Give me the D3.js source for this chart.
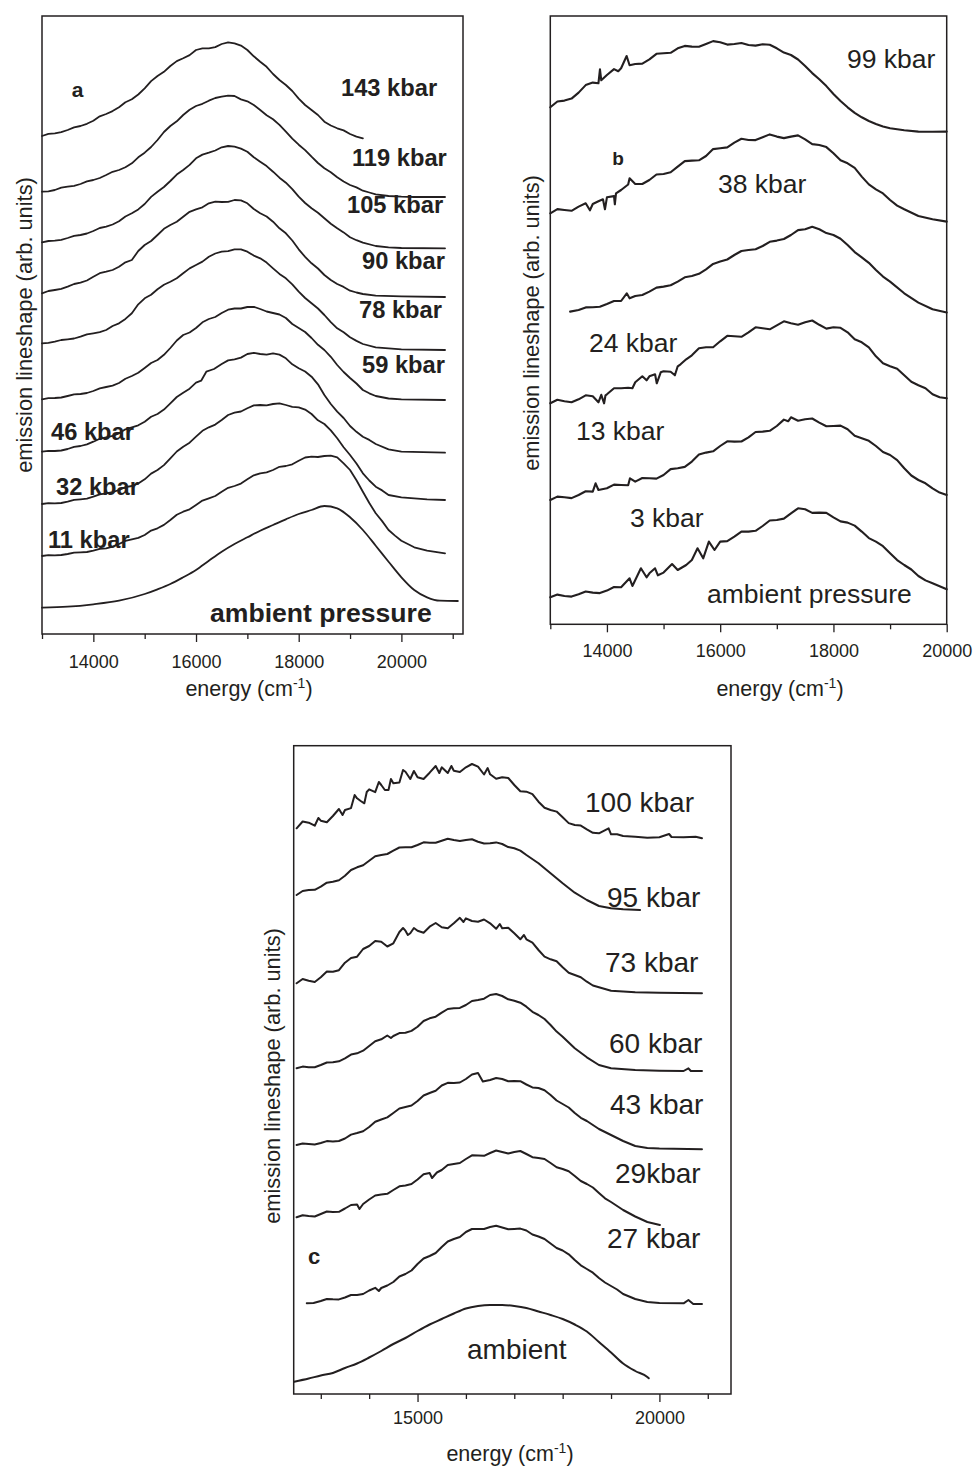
<!DOCTYPE html>
<html><head><meta charset="utf-8">
<script src="https://cdn.jsdelivr.net/npm/d3@7"></script>
<style>
body{margin:0;background:#fff;}
svg text{font-family:"Liberation Sans",Arial,Helvetica,sans-serif;fill:#231f20;}
</style>
</head><body>
<svg id="fig" width="976" height="1468"></svg>
<script>
// ---------------- DATA ----------------
// energy (cm^-1), lineshape (arb. units, vertically offset)
// Panel a
const a143 = [[13000,49.8],[13125,50.01],[13250,50.07],[13375,50.19],[13500,50.4],[13625,50.67],[13750,50.8],[13875,51.02],[14000,51.33],[14125,51.77],[14250,52.0],[14375,52.29],[14500,52.67],[14625,53.17],[14750,53.47],[14875,53.95],[15000,54.57],[15125,55.29],[15250,55.8],[15375,56.22],[15500,56.8],[15625,57.29],[15750,57.57],[15875,57.89],[16000,58.4],[16125,58.56],[16250,58.57],[16375,58.69],[16500,59.0],[16625,59.16],[16750,59.07],[16875,58.84],[17000,58.4],[17125,57.77],[17250,57.23],[17375,56.72],[17500,56.0],[17625,55.4],[17750,54.9],[17875,54.3],[18000,53.53],[18125,52.9],[18250,52.4],[18375,51.9],[18500,51.23],[18625,50.85],[18750,50.57],[18875,50.36],[19000,50.0],[19125,49.74],[19250,49.57]];
const a119 = [[13000,44.23],[13125,44.27],[13250,44.4],[13375,44.63],[13500,44.73],[13625,44.82],[13750,45.0],[13875,45.26],[14000,45.4],[14125,45.6],[14250,45.9],[14375,46.22],[14500,46.4],[14625,46.68],[14750,47.07],[14875,47.67],[15000,48.13],[15125,48.7],[15250,49.4],[15375,50.2],[15500,50.8],[15625,51.27],[15750,51.9],[15875,52.42],[16000,52.8],[16125,53.02],[16250,53.33],[16375,53.6],[16500,53.73],[16625,53.83],[16750,53.8],[16875,53.46],[17000,53.27],[17125,52.9],[17250,52.4],[17375,51.88],[17500,51.47],[17625,50.91],[17750,50.23],[17875,49.53],[18000,48.93],[18125,48.39],[18250,47.73],[18375,47.1],[18500,46.57],[18625,46.17],[18750,45.67],[18875,45.25],[19000,44.9],[19125,44.66],[19250,44.33],[19375,44.15],[19500,43.97],[19750,43.8],[20000,43.73],[20250,43.7],[20500,43.7],[20850,43.7]];
const a105 = [[13000,39.17],[13125,39.3],[13250,39.33],[13375,39.42],[13500,39.6],[13625,39.81],[13750,39.9],[13875,40.05],[14000,40.3],[14125,40.6],[14250,40.73],[14375,40.95],[14500,41.27],[14625,41.75],[14750,42.07],[14875,42.46],[15000,43.0],[15125,43.71],[15250,44.23],[15375,44.7],[15500,45.3],[15625,45.94],[15750,46.4],[15875,46.91],[16000,47.57],[16125,47.94],[16250,48.13],[16375,48.35],[16500,48.67],[16625,48.8],[16750,48.73],[16875,48.54],[17000,48.23],[17125,47.68],[17250,47.23],[17375,46.79],[17500,46.23],[17625,45.63],[17750,45.13],[17875,44.49],[18000,43.73],[18125,43.1],[18250,42.57],[18375,42.12],[18500,41.57],[18625,41.03],[18750,40.57],[18875,40.16],[19000,39.67],[19125,39.38],[19250,39.13],[19500,38.8],[19750,38.67],[20000,38.6],[20850,38.57]];
const a90 = [[13000,34.07],[13125,34.3],[13250,34.4],[13375,34.51],[13500,34.73],[13625,35.0],[13750,35.13],[13875,35.35],[14000,35.73],[14125,36.08],[14250,36.23],[14375,36.4],[14500,36.73],[14625,37.17],[14750,37.4],[14875,38.3],[15000,38.9],[15125,39.3],[15250,39.9],[15375,40.52],[15500,40.9],[15625,41.22],[15750,41.73],[15875,42.22],[16000,42.47],[16125,42.67],[16250,43.07],[16375,43.24],[16500,43.2],[16625,43.22],[16750,43.4],[16875,43.36],[17000,43.07],[17125,42.5],[17250,42.07],[17375,41.75],[17500,41.23],[17625,40.57],[17750,40.07],[17875,39.35],[18000,38.47],[18125,37.71],[18250,37.07],[18375,36.55],[18500,35.9],[18625,35.4],[18750,35.0],[18875,34.71],[19000,34.33],[19125,34.15],[19250,34.0],[19500,33.83],[20000,33.77],[20850,33.7]];
const a78 = [[13000,29.07],[13125,29.11],[13250,29.23],[13375,29.4],[13500,29.47],[13625,29.55],[13750,29.73],[13875,29.96],[14000,30.07],[14125,30.19],[14250,30.4],[14375,30.8],[14500,31.07],[14625,31.51],[14750,32.07],[14875,32.97],[15000,33.57],[15125,33.92],[15250,34.47],[15375,34.92],[15500,35.23],[15625,35.57],[15750,36.07],[15875,36.56],[16000,36.9],[16125,37.24],[16250,37.73],[16375,38.05],[16500,38.23],[16625,38.29],[16750,38.47],[16875,38.47],[17000,38.23],[17125,37.84],[17250,37.57],[17375,37.14],[17500,36.57],[17625,36.01],[17750,35.57],[17875,34.96],[18000,34.23],[18125,33.6],[18250,33.07],[18375,32.55],[18500,31.9],[18625,31.19],[18750,30.57],[18875,30.17],[19000,29.67],[19125,29.31],[19250,29.0],[19500,28.67],[20000,28.47],[20850,28.4]];
const a59 = [[13000,23.47],[13125,23.58],[13250,23.6],[13375,23.65],[13500,23.8],[13625,23.96],[13750,24.0],[13875,24.1],[14000,24.3],[14125,24.57],[14250,24.7],[14375,24.84],[14500,25.1],[14625,25.52],[14750,25.8],[14875,26.12],[15000,26.6],[15125,27.1],[15250,27.4],[15375,27.92],[15500,28.6],[15625,29.35],[15750,29.9],[15875,30.15],[16000,30.6],[16125,31.17],[16250,31.5],[16375,31.7],[16500,32.1],[16625,32.43],[16750,32.55],[16875,32.55],[17000,32.7],[17125,32.72],[17250,32.5],[17375,32.25],[17500,32.1],[17625,31.95],[17750,31.6],[17875,31.0],[18000,30.6],[18125,30.2],[18250,29.6],[18375,28.92],[18500,28.4],[18625,27.72],[18750,26.9],[18875,26.2],[19000,25.6],[19125,25.05],[19250,24.4],[19375,24.07],[19500,23.8],[19750,23.55],[20000,23.47],[20850,23.4]];
const a46 = [[13000,18.23],[13125,18.32],[13250,18.3],[13375,18.35],[13500,18.5],[13625,18.71],[13750,18.8],[13875,18.96],[14000,19.23],[14125,19.52],[14250,19.67],[14375,19.81],[14500,20.07],[14625,20.47],[14750,20.67],[14875,20.87],[15000,21.23],[15125,21.72],[15250,22.0],[15375,22.44],[15500,23.07],[15625,23.7],[15750,24.13],[15875,24.53],[16000,25.13],[16100,25.33],[16200,26.23],[16350,26.5],[16500,27.0],[16625,27.36],[16750,27.47],[16875,27.64],[17000,28.0],[17125,28.12],[17250,28.0],[17375,27.94],[17500,28.07],[17625,27.94],[17750,27.57],[17875,26.97],[18000,26.57],[18125,26.25],[18250,25.73],[18375,24.97],[18500,23.9],[18625,23.0],[18750,22.23],[18875,21.6],[19000,20.8],[19125,20.22],[19250,19.73],[19375,19.41],[19500,19.0],[19750,18.47],[20000,18.23],[20850,18.13]];
const a32 = [[13000,13.0],[13125,13.09],[13250,13.07],[13375,13.1],[13500,13.23],[13625,13.41],[13750,13.47],[13875,13.54],[14000,13.73],[14125,13.97],[14250,14.07],[14375,14.18],[14500,14.4],[14625,14.69],[14750,14.8],[14875,15.06],[15000,15.47],[15125,16.04],[15250,16.4],[15375,16.89],[15500,17.57],[15625,18.25],[15750,18.73],[15875,19.13],[16000,19.73],[16125,20.32],[16250,20.67],[16375,20.94],[16500,21.4],[16625,21.9],[16750,22.13],[16875,22.25],[17000,22.57],[17125,22.86],[17250,22.9],[17375,22.87],[17500,23.0],[17625,23.07],[17750,22.9],[17875,22.71],[18000,22.67],[18125,22.44],[18250,22.0],[18375,21.37],[18500,21.0],[18625,20.36],[18750,19.57],[18875,18.68],[19000,17.9],[19125,17.05],[19250,16.07],[19375,15.35],[19500,14.73],[19625,14.36],[19750,13.9],[20000,13.67],[20500,13.47],[20850,13.4]];
const a11 = [[13000,7.8],[13125,7.88],[13250,7.87],[13375,7.9],[13500,8.0],[13625,8.14],[13750,8.17],[13875,8.2],[14000,8.33],[14125,8.51],[14250,8.57],[14375,8.74],[14500,9.0],[14625,9.31],[14750,9.47],[14875,9.61],[15000,9.9],[15125,10.34],[15250,10.57],[15375,10.91],[15500,11.4],[15625,11.92],[15750,12.23],[15875,12.47],[16000,12.9],[16125,13.34],[16250,13.57],[16375,13.8],[16500,14.23],[16625,14.62],[16750,14.8],[16875,15.04],[17000,15.47],[17125,15.87],[17250,16.07],[17375,16.16],[17500,16.4],[17625,16.72],[17750,16.8],[17875,16.97],[18000,17.33],[18125,17.65],[18250,17.73],[18375,17.7],[18500,17.8],[18625,17.84],[18750,17.67],[18875,17.07],[19000,16.4],[19125,15.37],[19250,14.23],[19375,13.1],[19500,12.07],[19625,11.29],[19750,10.4],[19875,9.84],[20000,9.33],[20125,9.0],[20250,8.67],[20500,8.33],[20850,8.07]];
const aAmb = [[13000,2.63],[13500,2.73],[14000,2.97],[14500,3.33],[15000,4.0],[15250,4.47],[15500,5.0],[15750,5.67],[16000,6.4],[16250,7.33],[16500,8.23],[16750,9.0],[17000,9.67],[17250,10.33],[17500,10.9],[17750,11.47],[18000,12.0],[18250,12.4],[18500,12.8],[18750,12.57],[19000,11.67],[19250,10.4],[19500,8.83],[19750,7.23],[20000,5.67],[20250,4.4],[20500,3.67],[20750,3.33],[21100,3.3]];
const labelsA = ["143 kbar","119 kbar","105 kbar","90 kbar","78 kbar","59 kbar","46 kbar","32 kbar","11 kbar","ambient pressure"];
const majorTicksA = [14000,16000,18000,20000];
const minorTicksA = [13000,15000,17000,19000,21000];

// Panel b
const b99 = [[13000,51.7],[13125,52.28],[13250,52.37],[13375,52.57],[13500,53.17],[13625,53.92],[13750,54.17],[13850,54.1],[13877,55.5],[13900,54.4],[14000,54.93],[14125,55.52],[14200,55.3],[14250,55.6],[14348,56.83],[14400,55.9],[14500,56.03],[14625,56.07],[14750,56.5],[14875,57.05],[15000,57.1],[15125,57.15],[15250,57.6],[15375,57.84],[15500,57.77],[15625,57.75],[15750,58.03],[15875,58.32],[16000,58.2],[16125,57.97],[16250,58.03],[16375,58.13],[16500,57.93],[16625,57.87],[16750,58.0],[16875,57.95],[17000,57.6],[17125,57.17],[17250,56.93],[17375,56.48],[17500,55.83],[17625,55.12],[17750,54.5],[17875,53.82],[18000,53.03],[18125,52.33],[18250,51.7],[18375,51.15],[18500,50.7],[18625,50.33],[18750,50.03],[18875,49.78],[19000,49.6],[19250,49.4],[19500,49.27],[19750,49.25],[20000,49.27]];
const b38 = [[13000,41.1],[13125,41.52],[13250,41.43],[13375,41.35],[13500,41.77],[13625,42.1],[13700,41.4],[13750,42.03],[13850,42.3],[13930,42.5],[13965,41.5],[14000,42.7],[14125,42.82],[14140,42.0],[14160,43.1],[14250,43.43],[14375,43.98],[14400,44.6],[14500,44.03],[14625,44.03],[14750,44.43],[14875,44.98],[15000,45.03],[15125,45.2],[15250,45.77],[15375,46.32],[15500,46.37],[15625,46.4],[15750,46.83],[15875,47.52],[16000,47.6],[16125,47.69],[16250,48.17],[16375,48.55],[16500,48.43],[16625,48.42],[16750,48.7],[16875,48.99],[17000,48.77],[17125,48.62],[17250,48.77],[17375,48.89],[17500,48.5],[17625,48.02],[17750,47.93],[17875,47.72],[18000,47.1],[18125,46.4],[18250,46.1],[18375,45.64],[18500,44.77],[18625,43.99],[18750,43.5],[18875,43.09],[19000,42.43],[19125,41.87],[19250,41.5],[19500,40.83],[19750,40.5],[20000,40.27]];
const b24 = [[13350,31.27],[13500,31.43],[13625,31.69],[13750,31.7],[13875,31.75],[14000,32.03],[14125,32.33],[14250,32.33],[14350,33.1],[14400,32.6],[14500,32.83],[14625,32.93],[14750,33.27],[14875,33.67],[15000,33.77],[15125,33.9],[15250,34.27],[15375,34.7],[15500,34.83],[15625,35.05],[15750,35.5],[15875,36.04],[16000,36.27],[16125,36.48],[16250,36.93],[16375,37.33],[16500,37.43],[16625,37.51],[16750,37.83],[16875,38.25],[17000,38.37],[17125,38.53],[17250,38.93],[17375,39.42],[17500,39.5],[17625,39.75],[17750,39.5],[17875,39.12],[18000,38.93],[18125,38.55],[18250,37.93],[18375,37.22],[18500,36.7],[18625,36.15],[18750,35.43],[18875,34.77],[19000,34.27],[19250,33.1],[19500,32.17],[19750,31.5],[20000,31.17]];
const b13 = [[13000,22.1],[13125,22.45],[13250,22.3],[13375,22.2],[13500,22.5],[13625,22.9],[13750,22.8],[13850,22.2],[13900,22.95],[13950,22.1],[13975,22.9],[14000,23.0],[14125,23.6],[14250,23.6],[14375,23.65],[14450,23.6],[14500,24.2],[14625,24.8],[14700,24.4],[14750,24.8],[14850,25.0],[14880,24.1],[14950,25.2],[15000,25.3],[15125,25.25],[15200,24.9],[15250,25.8],[15300,26.0],[15400,26.5],[15500,26.9],[15625,27.6],[15750,27.7],[15875,27.7],[16000,28.3],[16125,28.85],[16250,28.8],[16375,28.75],[16500,29.2],[16625,29.7],[16750,29.6],[16875,29.5],[17000,29.9],[17125,30.3],[17250,30.1],[17375,29.95],[17500,30.2],[17625,30.38],[17750,29.95],[17875,29.57],[18000,29.7],[18125,29.65],[18250,29.2],[18375,28.5],[18500,28.2],[18625,27.7],[18750,26.8],[18875,26.1],[19000,25.8],[19125,25.55],[19250,24.9],[19375,24.25],[19500,23.9],[19625,23.6],[19750,23.0],[19875,22.7],[20000,22.6]];
const b3 = [[13000,12.43],[13125,12.77],[13250,12.7],[13375,12.62],[13500,12.93],[13625,13.3],[13750,13.27],[13800,14.1],[13850,13.43],[14000,13.6],[14125,13.97],[14250,13.93],[14375,13.9],[14407,14.6],[14500,14.27],[14625,14.63],[14750,14.6],[14875,14.57],[15000,14.93],[15125,15.52],[15250,15.6],[15375,15.74],[15500,16.27],[15625,16.97],[15750,17.17],[15875,17.3],[16000,17.83],[16125,18.3],[16250,18.27],[16375,18.28],[16500,18.7],[16625,19.23],[16750,19.27],[16875,19.35],[17000,19.83],[17125,20.47],[17200,20.3],[17250,20.7],[17375,20.35],[17500,20.5],[17625,20.58],[17750,20.17],[17875,19.8],[18000,19.83],[18125,19.87],[18250,19.5],[18375,18.85],[18500,18.6],[18625,18.35],[18750,17.83],[18875,17.23],[19000,16.93],[19125,16.42],[19250,15.6],[19375,14.88],[19500,14.43],[19625,14.1],[19750,13.6],[19875,13.17],[20000,12.93]];
const bAmb = [[13000,2.7],[13125,2.97],[13250,2.83],[13375,2.77],[13500,3.0],[13625,3.28],[13750,3.17],[13875,3.12],[14000,3.37],[14125,3.73],[14250,3.7],[14400,4.6],[14450,3.83],[14600,5.6],[14700,4.7],[14750,5.1],[14850,5.6],[14900,4.9],[15000,5.17],[15150,6.03],[15250,5.43],[15400,5.93],[15500,6.43],[15600,7.6],[15700,6.6],[15800,8.27],[15900,7.43],[16000,8.27],[16125,8.32],[16250,8.77],[16375,9.27],[16500,9.27],[16625,9.35],[16750,9.83],[16875,10.38],[17000,10.43],[17125,10.57],[17250,11.1],[17375,11.6],[17500,11.5],[17625,11.14],[17750,11.17],[17875,11.14],[18000,10.7],[18125,10.29],[18250,10.17],[18375,9.87],[18500,9.27],[18625,8.62],[18750,8.27],[18875,7.81],[19000,7.1],[19125,6.42],[19250,5.93],[19375,5.48],[19500,4.83],[19625,4.39],[19750,4.1],[19875,3.8],[20000,3.5]];
const labelsB = ["99 kbar","38 kbar","24 kbar","13 kbar","3 kbar","ambient pressure"];
const majorTicksB = [14000,16000,18000,20000];
const minorTicksB = [13000,15000,17000,19000];

// Panel c
const c100 = [[12500,56.57],[12625,57.25],[12750,57.13],[12875,56.83],[12950,57.6],[13000,57.33],[13125,57.17],[13250,57.8],[13375,58.5],[13450,57.9],[13500,58.4],[13625,58.59],[13700,59.9],[13750,59.57],[13825,59.3],[13900,59.07],[13950,60.2],[14000,60.47],[14125,60.19],[14200,61.2],[14250,60.9],[14325,60.4],[14400,60.4],[14450,61.5],[14500,61.07],[14625,61.15],[14700,62.4],[14750,62.23],[14850,61.5],[14925,62.3],[15000,61.67],[15125,61.5],[15250,62.13],[15375,62.8],[15450,62.1],[15500,62.67],[15625,62.1],[15700,62.8],[15750,62.33],[15875,62.2],[16000,62.67],[16125,63.0],[16250,62.73],[16375,61.95],[16450,62.6],[16500,61.97],[16625,61.52],[16750,61.67],[16875,61.6],[17000,60.9],[17125,60.27],[17250,60.23],[17375,59.98],[17500,59.23],[17625,58.62],[17750,58.4],[17875,58.24],[18000,57.67],[18125,57.09],[18250,56.9],[18375,56.84],[18500,56.47],[18625,56.12],[18750,56.07],[18950,56.57],[19000,55.97],[19125,55.98],[19250,55.8],[19500,55.73],[19750,55.62],[20000,55.67],[20200,56.0],[20250,55.7],[20500,55.67],[20750,55.73],[20880,55.57]];
const c95 = [[12500,49.9],[12625,50.3],[12750,50.4],[12875,50.42],[13000,50.73],[13125,51.13],[13250,51.23],[13375,51.38],[13500,51.83],[13625,52.4],[13750,52.67],[13875,52.88],[14000,53.33],[14125,53.77],[14250,53.9],[14375,54.0],[14500,54.33],[14625,54.65],[14750,54.67],[14875,54.67],[15000,54.9],[15125,55.17],[15250,55.13],[15375,55.13],[15500,55.33],[15625,55.52],[15750,55.4],[15875,55.3],[16000,55.4],[16125,55.47],[16250,55.23],[16375,55.05],[16500,55.07],[16625,55.16],[16750,55.0],[16875,54.69],[17000,54.57],[17125,54.34],[17250,53.9],[17500,53.07],[17750,52.07],[18000,51.07],[18250,50.13],[18500,49.4],[18750,48.8],[19000,48.57],[19250,48.47],[19600,48.4]];
const c73 = [[12500,41.07],[12625,41.5],[12750,41.33],[12875,41.2],[13000,41.67],[13125,42.25],[13250,42.23],[13375,42.38],[13500,43.13],[13625,43.6],[13750,43.73],[13875,44.5],[14000,44.8],[14125,45.3],[14250,45.23],[14375,44.75],[14500,45.07],[14625,46.2],[14700,46.6],[14750,46.33],[14800,45.9],[14850,46.07],[14925,46.6],[15000,46.33],[15125,46.13],[15250,46.73],[15375,47.1],[15500,46.67],[15625,46.57],[15750,47.07],[15875,47.62],[15950,47.2],[16000,47.57],[16125,47.3],[16250,47.23],[16375,47.45],[16500,47.07],[16625,46.52],[16700,47.0],[16750,46.57],[16875,46.62],[17000,46.07],[17125,45.47],[17200,45.9],[17250,45.47],[17375,45.13],[17500,44.4],[17625,43.73],[17750,43.47],[17875,43.27],[18000,42.67],[18125,42.13],[18250,41.9],[18375,41.68],[18500,41.23],[18625,40.85],[18750,40.67],[19000,40.33],[19500,40.17],[20000,40.13],[20880,40.07]];
const c60 = [[12500,32.57],[12625,32.74],[12750,32.67],[12875,32.68],[13000,32.9],[13125,33.15],[13250,33.17],[13375,33.27],[13500,33.57],[13625,33.94],[13750,34.07],[13875,34.33],[14000,34.8],[14125,35.28],[14250,35.47],[14375,35.85],[14450,35.6],[14500,35.8],[14625,36.09],[14750,36.13],[14875,36.31],[15000,36.73],[15125,37.3],[15250,37.57],[15375,37.73],[15500,38.13],[15625,38.5],[15750,38.57],[15875,38.61],[16000,38.9],[16125,39.3],[16250,39.4],[16375,39.53],[16500,39.9],[16625,40.0],[16750,39.8],[16875,39.47],[17000,39.33],[17125,39.13],[17250,38.73],[17375,38.22],[17500,37.9],[17625,37.5],[17750,36.9],[17875,36.24],[18000,35.73],[18250,34.57],[18500,33.67],[18750,32.9],[19000,32.57],[19500,32.4],[20000,32.33],[20500,32.3],[20600,32.57],[20650,32.3],[20880,32.3]];
const c43 = [[12500,24.9],[12625,25.05],[12750,25.0],[12875,24.95],[13000,25.1],[13125,25.29],[13250,25.25],[13375,25.3],[13500,25.55],[13625,25.94],[13750,26.1],[13875,26.28],[14000,26.7],[14125,27.22],[14250,27.45],[14375,27.66],[14500,28.1],[14625,28.55],[14750,28.7],[14875,28.85],[15000,29.3],[15125,29.85],[15250,30.1],[15375,30.33],[15500,30.85],[15625,31.12],[15750,31.1],[15875,31.15],[16000,31.5],[16125,31.95],[16250,32.1],[16350,31.25],[16500,31.4],[16625,31.6],[16750,31.5],[16875,31.28],[17000,31.3],[17125,31.28],[17250,30.95],[17375,30.66],[17500,30.6],[17625,30.37],[17750,29.9],[17875,29.35],[18000,29.0],[18125,28.65],[18250,28.1],[18375,27.62],[18500,27.3],[18750,26.5],[19000,25.9],[19250,25.3],[19500,24.8],[19750,24.6],[20000,24.55],[20880,24.47]];
const c29 = [[12500,17.67],[12625,17.88],[12750,17.8],[12875,17.75],[13000,18.0],[13125,18.25],[13250,18.2],[13375,18.22],[13500,18.55],[13625,18.9],[13750,18.95],[13800,18.5],[13875,19.0],[14000,19.45],[14125,19.85],[14250,19.95],[14375,20.02],[14500,20.4],[14625,20.77],[14750,20.85],[14875,21.0],[15000,21.45],[15125,21.97],[15250,22.1],[15300,21.6],[15400,22.15],[15500,22.4],[15625,22.9],[15750,23.0],[15875,23.1],[16000,23.5],[16125,23.87],[16250,23.85],[16375,23.82],[16500,24.1],[16625,24.35],[16750,24.2],[16875,24.05],[17000,24.2],[17125,24.3],[17250,24.0],[17375,23.68],[17500,23.6],[17625,23.5],[17750,23.1],[17875,22.68],[18000,22.5],[18125,22.27],[18250,21.8],[18375,21.3],[18500,21.0],[18625,20.65],[18750,20.1],[18875,19.57],[19000,19.2],[19250,18.4],[19500,17.75],[19750,17.2],[20010,16.9]];
const c27 = [[12710,9.07],[12850,9.1],[13000,9.3],[13125,9.5],[13250,9.47],[13375,9.46],[13500,9.65],[13625,9.9],[13750,9.9],[13875,10.0],[14000,10.35],[14125,10.62],[14200,10.3],[14250,10.6],[14375,10.85],[14500,11.2],[14625,11.75],[14750,12.0],[14875,12.35],[15000,13.0],[15125,13.55],[15250,13.8],[15375,14.1],[15500,14.7],[15625,15.25],[15750,15.5],[15875,15.7],[16000,16.2],[16125,16.5],[16250,16.5],[16375,16.5],[16500,16.7],[16625,16.82],[16750,16.65],[16875,16.47],[17000,16.5],[17125,16.54],[17250,16.35],[17375,15.95],[17500,15.75],[17625,15.5],[17750,15.05],[17875,14.6],[18000,14.35],[18125,13.97],[18250,13.4],[18375,12.87],[18500,12.5],[18625,12.13],[18750,11.6],[18875,11.15],[19000,10.8],[19125,10.45],[19250,10.0],[19500,9.5],[19750,9.2],[20000,9.1],[20500,9.07],[20600,9.4],[20700,9.0],[20880,9.0]];
const cAmb = [[12450,1.23],[12750,1.55],[13000,1.85],[13250,2.1],[13500,2.6],[13750,3.05],[14000,3.65],[14250,4.3],[14500,5.0],[14750,5.6],[15000,6.3],[15250,6.95],[15500,7.5],[15750,8.05],[16000,8.55],[16250,8.8],[16500,8.9],[16750,8.9],[17000,8.8],[17250,8.6],[17500,8.25],[17750,7.9],[18000,7.5],[18250,6.95],[18500,6.25],[18750,5.2],[19000,4.15],[19250,3.05],[19500,2.3],[19750,1.7],[19780,1.57]];
const labelsC = ["100 kbar","95 kbar","73 kbar","60 kbar","43 kbar","29kbar","27 kbar","ambient"];
const majorTicksC = [15000,20000];
const minorTicksC = [13000,14000,16000,17000,18000,19000,21000];

const panelLetters = ["a","b","c"];
const xTitle = "energy (cm";
const xTitleSup = "-1";
const yTitle = "emission lineshape (arb. units)";
const smoothSeries = [aAmb, cAmb];

// ---------------- LAYOUT ----------------
const ink = "#231f20";
const panels = [
  { box:[42,16,463,634], xDom:[13000,21200], yDom:[0,61.8],
    series:[a143,a119,a105,a90,a78,a59,a46,a32,a11,aAmb], major:majorTicksA, minor:minorTicksA,
    labels:labelsA, weight:"bold",
    labelPos:[[341,96],[352,166],[347,213],[362,269],[359,318],[362,373],[51,440],[56,495],[48,548],[210,622]],
    labelSize:[23.7,23.7,23.7,23.7,23.7,23.7,23.7,23.7,23.7,26.6],
    letterPos:[77.5,97], letterSize:21, tickPad:13, titlePos:[249,696], yTitleX:24, yTitleY:325, lw:1.8 },
  { box:[550.3,16,946.7,624.3], xDom:[13000,20000], yDom:[0,60.83],
    series:[b99,b38,b24,b13,b3,bAmb], major:majorTicksB, minor:minorTicksB,
    labels:labelsB, weight:"normal",
    labelPos:[[847,68],[718,193],[589,352],[576,440],[630,527],[707,603]],
    labelSize:[26.5,26.5,26.5,26.5,26.5,26.5],
    letterPos:[618,165], letterSize:19, tickPad:11.5, titlePos:[780,696], yTitleX:531, yTitleY:323, lw:2.1 },
  { box:[293.7,745.7,731,1394], xDom:[12440,21480], yDom:[0,64.83],
    series:[c100,c95,c73,c60,c43,c29,c27,cAmb], major:majorTicksC, minor:minorTicksC,
    labels:labelsC, weight:"normal",
    labelPos:[[585,812],[607,907],[605,972],[609,1053],[610,1114],[615,1183],[607,1248],[467,1359]],
    labelSize:[28,28,28,28,28,28,28,28],
    letterPos:[314,1264], letterSize:22, tickPad:9.5, titlePos:[510,1461], yTitleX:272, yTitleY:1076, lw:2 }
];

const svg = d3.select("#fig");
svg.append("rect").attr("width",976).attr("height",1468).attr("fill","#fff");

panels.forEach((p,i)=>{
  const [l,t,r,b] = p.box;
  const x = d3.scaleLinear().domain(p.xDom).range([l,r]);
  const y = d3.scaleLinear().domain(p.yDom).range([b,t]);
  const g = svg.append("g");

  // curves
  const lineRough = d3.line().x(d=>x(d[0])).y(d=>y(d[1])).curve(d3.curveLinear);
  const lineSmooth = d3.line().x(d=>x(d[0])).y(d=>y(d[1])).curve(d3.curveMonotoneX);
  g.selectAll("path.curve").data(p.series).join("path")
    .attr("class","curve").attr("d",d=>smoothSeries.includes(d)?lineSmooth(d):lineRough(d))
    .attr("fill","none").attr("stroke",ink).attr("stroke-width",p.lw)
    .attr("stroke-linejoin","round").attr("stroke-linecap","round");

  // minor ticks
  const minorAx = g.append("g").attr("transform",`translate(0,${b})`)
    .call(d3.axisBottom(x).tickValues(p.minor).tickSize(5).tickSizeOuter(0).tickFormat(""));
  minorAx.select(".domain").remove();
  minorAx.selectAll("line").attr("stroke",ink).attr("stroke-width",1.3);

  // major ticks
  const majorAx = g.append("g").attr("transform",`translate(0,${b})`)
    .call(d3.axisBottom(x).tickValues(p.major).tickSize(8).tickSizeOuter(0).tickPadding(p.tickPad).tickFormat(d3.format("d")));
  majorAx.select(".domain").remove();
  majorAx.selectAll("line").attr("stroke",ink).attr("stroke-width",1.3);
  majorAx.attr("font-family",null).attr("font-size",null);
  majorAx.selectAll("text").style("font-size","18px").attr("fill",ink);

  // frame
  g.append("rect").attr("x",l).attr("y",t).attr("width",r-l).attr("height",b-t)
    .attr("fill","none").attr("stroke",ink).attr("stroke-width",1.5);

  // curve labels
  g.selectAll("text.lab").data(p.labels).join("text").attr("class","lab")
    .attr("x",(d,k)=>p.labelPos[k][0]).attr("y",(d,k)=>p.labelPos[k][1])
    .style("font-size",(d,k)=>p.labelSize[k]+"px").style("font-weight",p.weight)
    .text(d=>d);

  // panel letter
  g.append("text").attr("x",p.letterPos[0]).attr("y",p.letterPos[1])
    .attr("text-anchor","middle").style("font-weight","bold").style("font-size",p.letterSize+"px")
    .text(panelLetters[i]);

  // x title
  const xt = g.append("text").attr("x",p.titlePos[0]).attr("y",p.titlePos[1])
    .attr("text-anchor","middle").style("font-size","21.5px");
  xt.append("tspan").text(xTitle);
  xt.append("tspan").attr("dy",-8).style("font-size","14px").text(xTitleSup);
  xt.append("tspan").attr("dy",8).text(")");

  // y title
  g.append("text").attr("transform",`translate(${p.yTitleX},${p.yTitleY}) rotate(-90)`)
    .attr("text-anchor","middle").attr("dominant-baseline","central")
    .style("font-size","21.8px").text(yTitle);
});
</script>
</body></html>
